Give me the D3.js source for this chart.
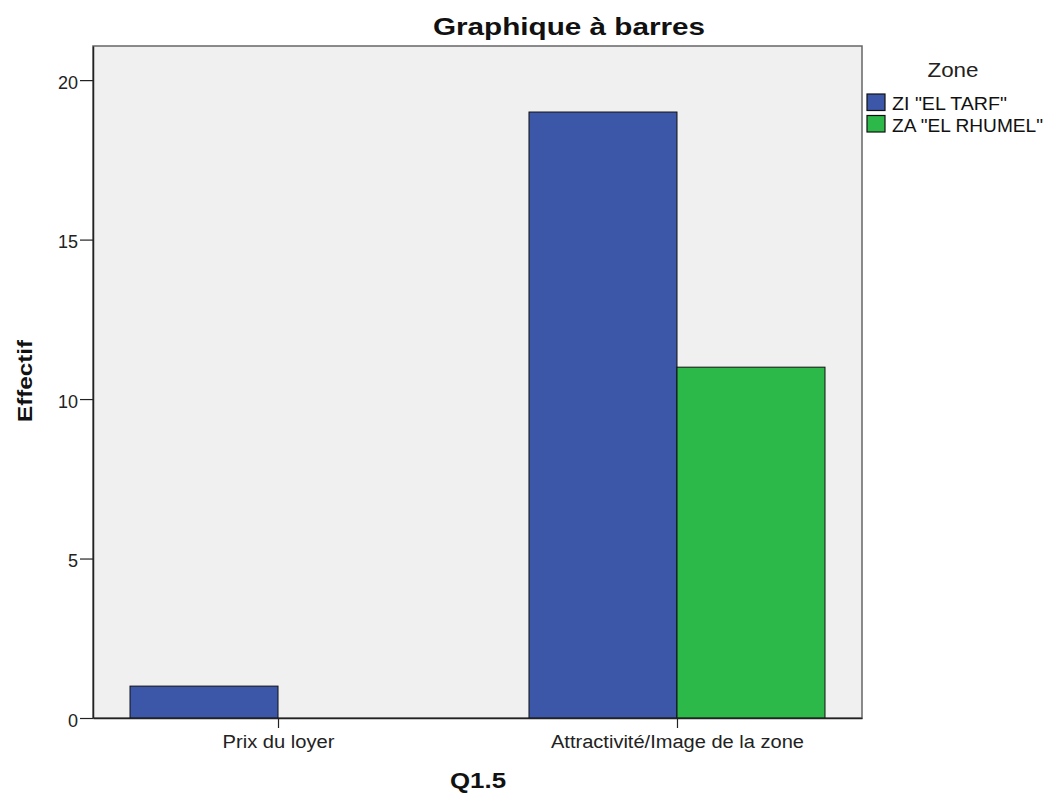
<!DOCTYPE html>
<html><head><meta charset="utf-8">
<script src="https://cdn.jsdelivr.net/npm/d3@7"></script>
<style>body{margin:0;background:#fff;} text{font-family:"Liberation Sans",Arial,sans-serif;}</style>
</head><body>
<svg id="c" width="1051" height="793"></svg>
<script>
const categories = ["Prix du loyer", "Attractivité/Image de la zone"];
const seriesNames = ['ZI "EL TARF"', 'ZA "EL RHUMEL"'];
const zi = [1, 19];
const za = [0, 11];
const yTicks = [0, 5, 10, 15, 20];
const colors = ["#3c56a8", "#2db84a"];

// rendered widths of the text in the reference (letter-spaced rendering)
const catTextWidth = [112, 253];
const legendTextWidth = [115, 151];

const svg = d3.select("#c");
const L = 93, R = 862, T = 46, B = 718;
const y = d3.scaleLinear().domain([0, 21.07]).range([B, T]);
const x = d3.scalePoint().domain(categories).range([L, R]).padding(0.4637);
const bw = 148;
const x1 = d3.scaleBand().domain(seriesNames).range([-bw, bw]);

svg.append("rect").attr("x", L).attr("y", T).attr("width", R - L).attr("height", B - T)
  .attr("fill", "#f0f0f0").attr("stroke", "#666").attr("stroke-width", 1.5);

const data = [zi, za];
seriesNames.forEach((s, si) => {
  categories.forEach((c, ci) => {
    const v = data[si][ci];
    if (v <= 0) return;
    svg.append("rect")
      .attr("x", x(c) + x1(s))
      .attr("y", y(v))
      .attr("width", x1.bandwidth())
      .attr("height", y(0) - y(v))
      .attr("fill", colors[si]).attr("stroke", "#111").attr("stroke-width", 1);
  });
});

// y axis
const yAxis = d3.axisLeft(y).tickValues(yTicks).tickSize(13).tickSizeOuter(0).tickPadding(2).tickFormat(d3.format("d"));
const ya = svg.append("g").attr("transform", `translate(${L},0)`).call(yAxis);
ya.select(".domain").attr("stroke", "#222").attr("stroke-width", 1.5);
ya.selectAll(".tick line").attr("stroke", "#222").attr("stroke-width", 1.2);
ya.selectAll("text").attr("font-size", 18).attr("fill", "#222").attr("dy", 8)
  .attr("font-family", "Liberation Sans, Arial, sans-serif");

// x axis
const xAxis = d3.axisBottom(x).tickSize(10).tickSizeOuter(0);
const xa = svg.append("g").attr("transform", `translate(0,${B})`).call(xAxis);
xa.select(".domain").attr("stroke", "#222").attr("stroke-width", 1.5);
xa.selectAll(".tick line").attr("stroke", "#222").attr("stroke-width", 1.2);
xa.selectAll("text").attr("font-size", 18).attr("fill", "#222").attr("y", 30).attr("dy", 0)
  .attr("textLength", (d, i) => catTextWidth[i]).attr("lengthAdjust", "spacingAndGlyphs")
  .attr("font-family", "Liberation Sans, Arial, sans-serif");

// title
svg.append("text").attr("x", 569).attr("y", 35).attr("text-anchor", "middle")
  .attr("font-size", 24).attr("font-weight", "bold").attr("fill", "#111")
  .attr("textLength", 272).attr("lengthAdjust", "spacingAndGlyphs").text("Graphique à barres");
// axis labels
svg.append("text").attr("transform", "translate(32,381) rotate(-90)").attr("text-anchor", "middle")
  .attr("font-size", 21).attr("font-weight", "bold").attr("fill", "#111")
  .attr("textLength", 82).attr("lengthAdjust", "spacingAndGlyphs").text("Effectif");
svg.append("text").attr("x", 478).attr("y", 788).attr("text-anchor", "middle")
  .attr("font-size", 22).attr("font-weight", "bold").attr("fill", "#111")
  .attr("textLength", 56).attr("lengthAdjust", "spacingAndGlyphs").text("Q1.5");

// legend
svg.append("text").attr("x", 953).attr("y", 77).attr("text-anchor", "middle")
  .attr("font-size", 21).attr("fill", "#222")
  .attr("textLength", 51).attr("lengthAdjust", "spacingAndGlyphs").text("Zone");
seriesNames.forEach((s, i) => {
  const yy = 94 + i * 21.5;
  svg.append("rect").attr("x", 867).attr("y", yy).attr("width", 18).attr("height", 16.5)
    .attr("fill", colors[i]).attr("stroke", "#111").attr("stroke-width", 1.2);
  svg.append("text").attr("x", 892).attr("y", yy + 16.3).attr("font-size", 18).attr("fill", "#111")
    .attr("textLength", legendTextWidth[i]).attr("lengthAdjust", "spacingAndGlyphs").text(s);
});
</script>
</body></html>
